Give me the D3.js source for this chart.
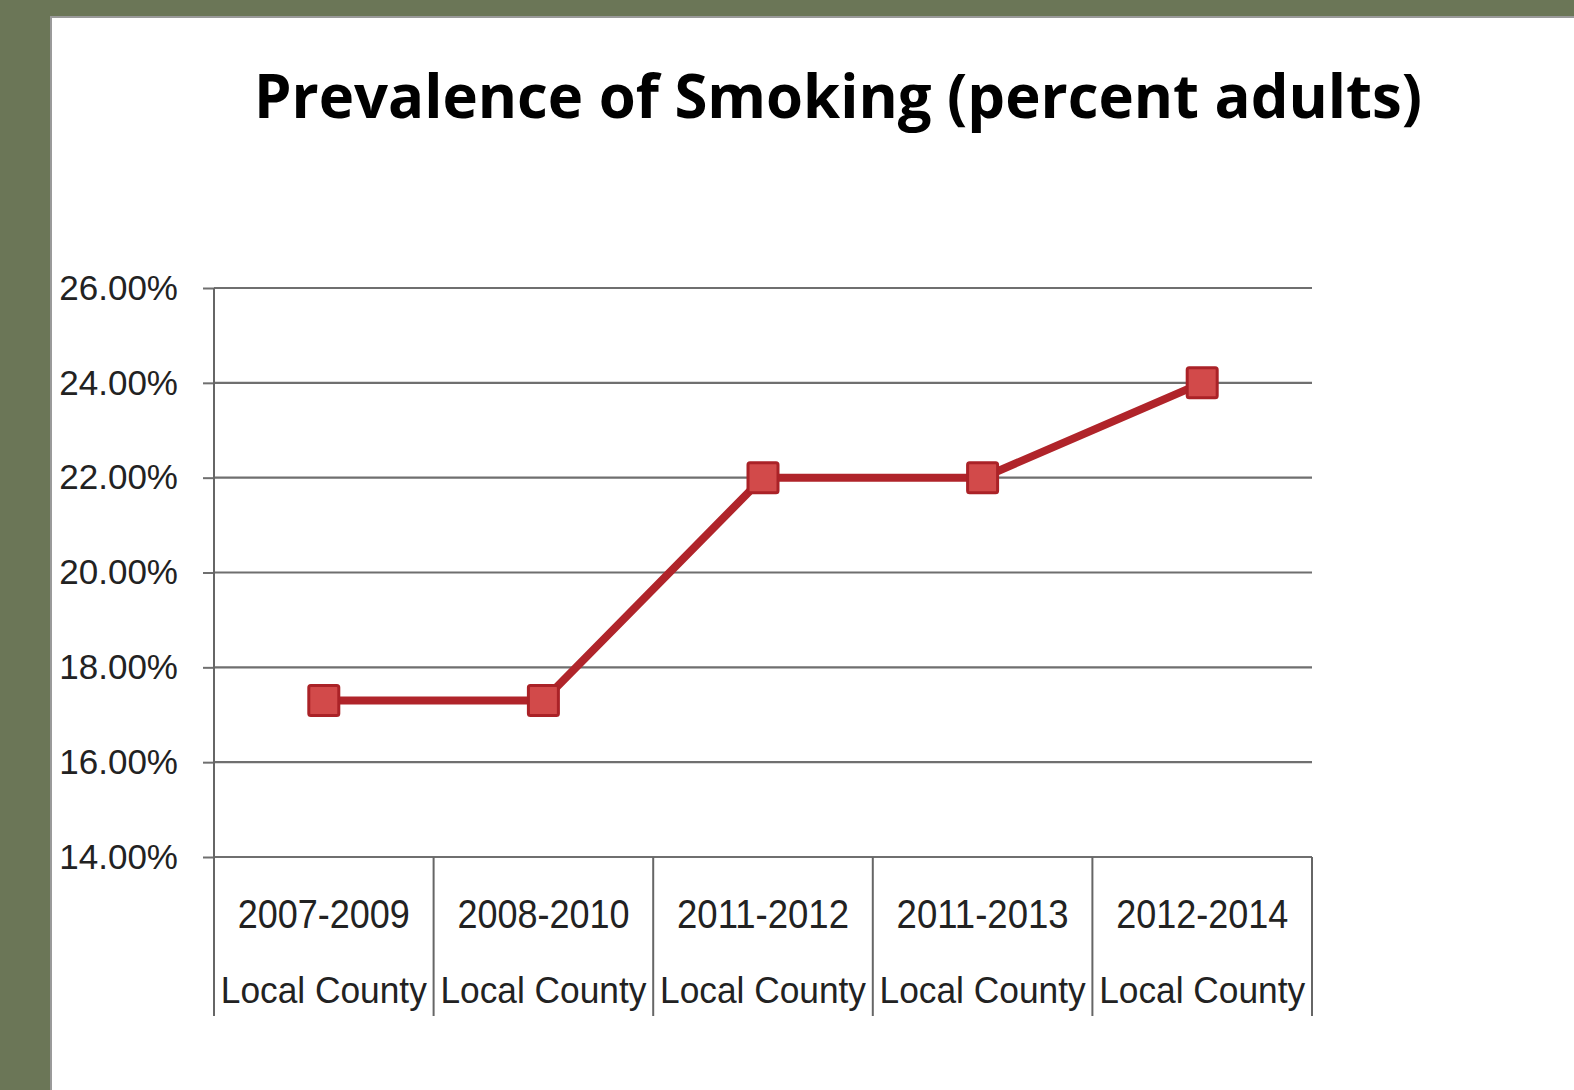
<!DOCTYPE html>
<html>
<head>
<meta charset="utf-8">
<script src="https://cdn.jsdelivr.net/npm/d3@7"></script>
<style>
  html, body { margin: 0; padding: 0; background: #6b7657; }
  #chart { width: 1574px; height: 1090px; }
</style>
</head>
<body>
<div id="chart"></div>
<script>
// data
const periods = ['2007-2009', '2008-2010', '2011-2012', '2011-2013', '2012-2014'];
const region = 'Local County';
const smoking = [17.3, 17.3, 22.0, 22.0, 24.0];
const yTicks = [14, 16, 18, 20, 22, 24, 26];
const title = 'Prevalence of Smoking (percent adults)';

const W = 1574, H = 1090;
const margin = { top: 288, right: 262, bottom: 233, left: 214 };
const width = W - margin.left - margin.right;
const height = H - margin.top - margin.bottom;

const root = d3.select('#chart').append('svg')
  .attr('width', W).attr('height', H);

// slide panel
root.append('rect').attr('x', 0).attr('y', 0).attr('width', W).attr('height', H).attr('fill', '#6b7657');
root.append('rect').attr('x', 50).attr('y', 16).attr('width', W - 50).attr('height', H - 16).attr('fill', '#9a9a9a');
root.append('rect').attr('x', 52).attr('y', 18).attr('width', W - 52).attr('height', H - 18).attr('fill', '#ffffff');

root.append('text')
  .attr('x', 838).attr('y', 118)
  .attr('text-anchor', 'middle')
  .attr('font-family', 'Open Sans, Liberation Sans, sans-serif')
  .attr('font-weight', 'bold')
  .attr('font-size', 60)
  .attr('textLength', 1168)
  .attr('lengthAdjust', 'spacingAndGlyphs')
  .attr('fill', '#000')
  .text(title);

const svg = root.append('g').attr('transform', `translate(${margin.left},${margin.top})`);

const x = d3.scaleBand().domain(periods).range([0, width]);
const y = d3.scaleLinear().domain([14, 26]).range([height, 0]);

// tick labels + small outside ticks
const yAxis = svg.append('g')
  .call(d3.axisLeft(y).tickValues(yTicks).tickSize(11).tickPadding(25)
    .tickFormat(d => d.toFixed(2) + '%'));
yAxis.select('.domain').remove();
yAxis.selectAll('line').attr('stroke', '#6f6f6f').attr('stroke-width', 2);
yAxis.selectAll('text')
  .attr('font-family', 'Liberation Sans, Arial, sans-serif')
  .attr('font-size', 35)
  .attr('fill', '#222');

// horizontal gridlines
svg.append('g')
  .selectAll('line')
  .data(yTicks)
  .join('line')
  .attr('x1', 0).attr('x2', width)
  .attr('y1', d => y(d)).attr('y2', d => y(d))
  .attr('stroke', '#6f6f6f').attr('stroke-width', 2.2);

// vertical axis line, running down through the category table
svg.append('line')
  .attr('x1', 0).attr('x2', 0)
  .attr('y1', 0).attr('y2', height + 159)
  .attr('stroke', '#666').attr('stroke-width', 2);

// category separators
const bounds = periods.map(p => x(p) + x.bandwidth());
svg.append('g')
  .selectAll('line')
  .data(bounds)
  .join('line')
  .attr('x1', d => d).attr('x2', d => d)
  .attr('y1', height).attr('y2', height + 159)
  .attr('stroke', '#666').attr('stroke-width', 2);

// category labels (two rows)
const cats = svg.append('g').attr('font-family', 'Liberation Sans, Arial, sans-serif').attr('fill', '#222');
cats.selectAll('text.period')
  .data(periods)
  .join('text')
  .attr('class', 'period')
  .attr('x', d => x(d) + x.bandwidth() / 2)
  .attr('y', height + 71)
  .attr('text-anchor', 'middle')
  .attr('font-size', 40)
  .attr('textLength', 172)
  .attr('lengthAdjust', 'spacingAndGlyphs')
  .text(d => d);
cats.selectAll('text.region')
  .data(periods)
  .join('text')
  .attr('class', 'region')
  .attr('x', d => x(d) + x.bandwidth() / 2)
  .attr('y', height + 146)
  .attr('text-anchor', 'middle')
  .attr('font-size', 37)
  .attr('textLength', 206)
  .attr('lengthAdjust', 'spacingAndGlyphs')
  .text(region);

// series line
const pts = periods.map((p, i) => ({ p, v: smoking[i] }));
const line = d3.line()
  .x(d => x(d.p) + x.bandwidth() / 2)
  .y(d => y(d.v));
svg.append('path')
  .datum(pts)
  .attr('fill', 'none')
  .attr('stroke', '#b0242a')
  .attr('stroke-width', 8)
  .attr('d', line);

// square markers
const s = 30;
svg.append('g')
  .selectAll('rect')
  .data(pts)
  .join('rect')
  .attr('x', d => x(d.p) + x.bandwidth() / 2 - s / 2)
  .attr('y', d => y(d.v) - s / 2)
  .attr('width', s).attr('height', s)
  .attr('rx', 2)
  .attr('fill', '#d24a4a')
  .attr('stroke', '#aa2227')
  .attr('stroke-width', 3);
</script>
</body>
</html>
